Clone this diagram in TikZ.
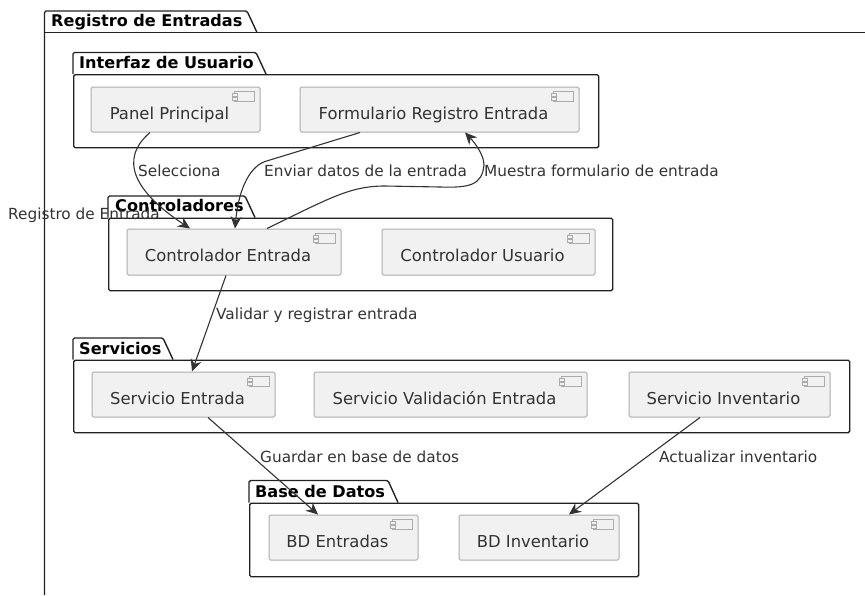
\documentclass[tikz,border=0pt]{standalone}
\usepackage{fontspec}
\setmainfont{DejaVu Sans}
\usetikzlibrary{arrows.meta}
\definecolor{ink}{HTML}{333333}
\definecolor{edge}{HTML}{ACACAC}
\definecolor{fillc}{HTML}{F1F1F1}
\definecolor{pline}{HTML}{222222}
\tikzset{
  comp/.style={draw=edge,fill=fillc,line width=1pt,rounded corners=1.5pt,inner sep=0pt,text=ink,font=\fontsize{16.4}{18}\selectfont,text height=12pt,text depth=0pt},
  pkgbox/.style={draw=pline,line width=1.4pt,rounded corners=1.5pt,inner sep=0pt,anchor=north west},
  pkgtab/.style={draw=pline,line width=1.4pt,rounded corners=1.5pt},
  pkgtitle/.style={anchor=base west,inner sep=0pt,font=\fontsize{16.1}{18}\selectfont\bfseries,text=black},
  lbl/.style={anchor=base west,inner sep=0pt,font=\fontsize{15.3}{17}\selectfont,text=ink},
  conn/.style={draw=ink,line width=1.1pt,-{Stealth[length=12pt,width=11pt,inset=4pt]}},
  icon/.style={draw=edge,line width=0.8pt,fill=fillc}
}
\newcommand{\cl}[1]{\raisebox{-3.7pt}{\kern-12pt #1}}
\newcommand{\compicon}[1]{%
  \draw[icon] ([xshift=-26pt,yshift=-5pt]#1.north east) rectangle ([xshift=-6pt,yshift=-15pt]#1.north east);
  \draw[icon] ([xshift=-28pt,yshift=-7pt]#1.north east) rectangle ([xshift=-23pt,yshift=-9.5pt]#1.north east);
  \draw[icon] ([xshift=-28pt,yshift=-11pt]#1.north east) rectangle ([xshift=-23pt,yshift=-13.5pt]#1.north east);
}
\newcommand{\pkg}[7]{%
  \node[pkgbox,minimum width=#6-#2,minimum height=#7-#5] (#1) at (#2,#5) {};
  \draw[pkgtab] (#2,#5) -- (#2,#3) -- (#4,#3) -- ([xshift=#4+10-#2]#1.north west);
}
\begin{document}
\begin{tikzpicture}[x=1pt,y=-1pt]
\useasboundingbox (0,0) rectangle (865,595);
\fill[white] (0,0) rectangle (865,595);

\coordinate (outerBL) at (44.5,595);
\coordinate (outerTL) at (44.5,11);
\coordinate (outerTR) at (247,11);
\coordinate (outerS) at (257,32.5);
\coordinate (outerL) at (44.5,32.5);
\coordinate (outerE) at (865,32.5);
\draw[pkgtab] (outerBL) -- (outerTL) -- (outerTR) -- (outerS);
\draw[pkgtab] (outerL) -- (outerE);
\node[pkgtitle] (tOuter) at (51,26) {Registro de Entradas};

\pkg{pUI}{73}{52.5}{256}{74}{598}{147}{}
\node[pkgtitle] (tUI) at (79,68) {Interfaz de Usuario};
\pkg{pCtl}{108}{196}{245}{217.5}{612}{290}{}
\node[pkgtitle] (tCtl) at (115,211) {Controladores};
\pkg{pSrv}{73}{338}{163}{359.5}{849}{432}{}
\node[pkgtitle] (tSrv) at (79,354) {Servicios};
\pkg{pBD}{249}{480.5}{388}{502.5}{638}{576}{}
\node[pkgtitle] (tBD) at (255,497) {Base de Datos};

\node[comp,minimum width=169pt,minimum height=45pt] (panel) at (175.5,109.5) {\cl{Panel Principal}};
\node[comp,minimum width=279pt,minimum height=45pt] (form) at (439.5,109.5) {\cl{Formulario Registro Entrada}};
\node[comp,minimum width=214pt,minimum height=46pt] (ce) at (234,252) {\cl{Controlador Entrada}};
\node[comp,minimum width=213pt,minimum height=46pt] (cu) at (488.5,252) {\cl{Controlador Usuario}};
\node[comp,minimum width=183pt,minimum height=45pt] (se) at (183.5,394.5) {\cl{Servicio Entrada}};
\node[comp,minimum width=273pt,minimum height=45pt] (sv) at (450.5,394.5) {\cl{Servicio Validación Entrada}};
\node[comp,minimum width=201pt,minimum height=45pt] (si) at (729.5,394.5) {\cl{Servicio Inventario}};
\node[comp,minimum width=149pt,minimum height=45pt] (bde) at (343.5,537.5) {\cl{BD Entradas}};
\node[comp,minimum width=160pt,minimum height=45pt] (bdi) at (539,537.5) {\cl{BD Inventario}};
\foreach \c in {panel,form,ce,cu,se,sv,si,bde,bdi}{\compicon{\c}}

\draw[conn] ([xshift=-25.5pt]panel.south) .. controls (118,160) and (135,192) .. ([xshift=-44pt]ce.north);
\draw[conn] ([xshift=-79.5pt]form.south) -- (265,161.5) .. controls (247,168) and (238,195) .. ([xshift=1pt]ce.north);
\draw[conn] ([xshift=33pt]ce.north) .. controls (330,198) and (350,186) .. (385,186) -- (440,187) .. controls (470,188) and (482,185) .. (484,165) .. controls (484,155) and (475,143) .. ([xshift=25.5pt]form.south);
\draw[conn] ([xshift=-8pt]ce.south) -- ([xshift=8.5pt]se.north);
\draw[conn] ([xshift=24.5pt]se.south) -- ([xshift=-25.5pt]bde.north);
\draw[conn] ([xshift=-29.5pt]si.south) -- ([xshift=30pt]bdi.north);

\node[lbl] (l1) at (138,176) {Selecciona};
\node[lbl] (l2) at (264,176) {Enviar datos de la entrada};
\node[lbl] (l3) at (484,176) {Muestra formulario de entrada};
\node[lbl] (l4) at (8,219) {Registro de Entrada};
\node[lbl] (l5) at (216,319) {Validar y registrar entrada};
\node[lbl] (l6) at (260,462) {Guardar en base de datos};
\node[lbl] (l7) at (659,462) {Actualizar inventario};
\end{tikzpicture}
\end{document}
